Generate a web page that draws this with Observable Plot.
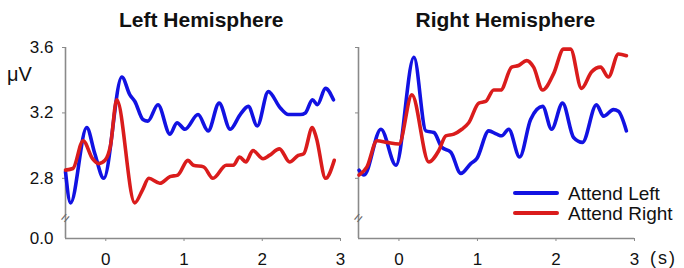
<!DOCTYPE html>
<html><head><meta charset="utf-8">
<script src="https://cdn.jsdelivr.net/npm/d3@7"></script>
<script src="https://cdn.jsdelivr.net/npm/@observablehq/plot@0.6"></script>
<style>
body{margin:0;background:#fff;}
#chart{position:relative;width:684px;height:268px;overflow:hidden;font-family:"Liberation Sans",Arial,sans-serif;color:#111;}
#chart svg{position:absolute;top:0;}
.lbl{position:absolute;white-space:nowrap;line-height:1;}
.sw{position:absolute;height:4px;border-radius:2px;}
</style></head><body><div id="chart"></div>
<script>
// ---- data (time in s, amplitude in µV) ----
const panelTitles = ["Left Hemisphere", "Right Hemisphere"];
const seriesNames = ["Attend Left", "Attend Right"];
const xTicks = [0, 1, 2, 3];
const yTicks = [0, 2.8, 3.2, 3.6];

const lhAttendLeftTime = [-0.515,-0.45,-0.244,-0.14,-0.026,0.205,0.308,0.372,0.474,0.538,0.667,0.821,0.910,1.013,1.179,1.308,1.449,1.590,1.718,1.821,1.936,2.077,2.231,2.333,2.487,2.551,2.641,2.705,2.808,2.910];
const lhAttendLeftUv   = [2.84,2.65,3.11,2.95,2.80,3.42,3.31,3.27,3.16,3.15,3.25,3.07,3.14,3.10,3.19,3.09,3.26,3.10,3.19,3.24,3.12,3.33,3.23,3.19,3.19,3.20,3.28,3.25,3.35,3.28];

const lhAttendRightTime = [-0.515,-0.42,-0.29,-0.17,-0.09,-0.01,0.06,0.14,0.37,0.47,0.55,0.69,0.82,0.92,1.05,1.12,1.25,1.37,1.54,1.63,1.71,1.79,1.88,2.01,2.09,2.22,2.35,2.46,2.53,2.64,2.69,2.81,2.92];
const lhAttendRightUv   = [2.85,2.86,3.03,2.92,2.89,2.91,3.00,3.28,2.65,2.73,2.80,2.77,2.81,2.82,2.91,2.88,2.87,2.80,2.88,2.88,2.93,2.90,2.97,2.92,2.94,2.98,2.90,2.94,2.95,3.11,3.05,2.80,2.91];

const rhAttendLeftTime = [-0.508,-0.445,-0.229,-0.038,0.191,0.343,0.445,0.546,0.661,0.788,0.915,0.991,1.144,1.245,1.309,1.398,1.537,1.677,1.830,1.944,2.084,2.224,2.338,2.516,2.605,2.732,2.795,2.897];
const rhAttendLeftUv   = [2.85,2.82,3.10,2.88,3.54,3.09,3.08,2.99,2.96,2.83,2.89,2.92,3.09,3.07,3.06,3.10,2.93,3.16,3.24,3.10,3.26,3.05,3.02,3.25,3.18,3.22,3.21,3.09];

const rhAttendRightTime = [-0.508,-0.407,-0.280,-0.152,0.0,0.165,0.381,0.508,0.597,0.699,0.801,0.889,1.017,1.105,1.207,1.296,1.436,1.525,1.626,1.715,1.830,1.970,2.097,2.186,2.325,2.452,2.567,2.668,2.795,2.897];
const rhAttendRightUv   = [2.82,2.87,3.03,3.02,3.01,3.31,2.90,2.97,3.06,3.07,3.10,3.14,3.26,3.27,3.34,3.34,3.48,3.49,3.52,3.48,3.34,3.44,3.59,3.59,3.35,3.45,3.48,3.42,3.56,3.55];

// ---- styling / layout ----
const blue = "#1212e2", red = "#da1c1c", axisGray = "#8a8a8a";
const xDomain = [-0.515, 3];
// broken axis: values below breakAt are compressed into a short stub
const breakAt = 2.56, stubFactor = 0.05;
const brokenY = v => v >= breakAt ? v : breakAt - stubFactor * breakAt + stubFactor * v;
const breakValue = 2.5;
const fmt1 = d3.format(".1f");

const toRows = (ts, vs) => ts.map((t, i) => ({t, v: vs[i]}));

function panel({marginLeft, marginRight, showLabels, attendLeft, attendRight}) {
  const upperTicks = yTicks.filter(d => d >= breakAt);
  const lowerTicks = yTicks.filter(d => d < breakAt);
  return Plot.plot({
    width: 342, height: 268,
    marginLeft, marginRight, marginTop: 47, marginBottom: 30,
    style: {fontFamily: '"Liberation Sans", Arial, sans-serif', fontSize: "17px", background: "transparent", overflow: "visible"},
    x: {domain: xDomain},
    y: {transform: brokenY, domain: [brokenY(yTicks[0]), yTicks[yTicks.length - 1]]},
    marks: [
      Plot.ruleX([xDomain[0]], {y1: yTicks[0], y2: yTicks[yTicks.length - 1], stroke: axisGray, strokeWidth: 1.6}),
      Plot.ruleY([yTicks[0]], {x1: xDomain[0], x2: xDomain[1], stroke: axisGray, strokeWidth: 1.6}),
      Plot.axisX({ticks: xTicks, tickSize: 3, tickPadding: 11, stroke: axisGray, fill: "#111", label: null, tickFormat: d3.format("d")}),
      Plot.axisY({ticks: upperTicks, tickSize: 3, tickPadding: 9, stroke: axisGray, fill: "#111", label: null,
                  tickFormat: showLabels ? fmt1 : () => ""}),
      showLabels ? Plot.text(lowerTicks, {x: xDomain[0], y: d => d, text: d => fmt1(d), textAnchor: "end", dx: -12, fill: "#111", fontSize: 17}) : null,
      Plot.text([breakValue], {x: xDomain[0], y: d => d, text: () => "=", rotate: -50, fontSize: 15, fill: "#666"}),
      Plot.line(attendLeft, {x: "t", y: "v", stroke: blue, strokeWidth: 3.6, curve: "monotone-x", strokeLinejoin: "round", strokeLinecap: "round"}),
      Plot.line(attendRight, {x: "t", y: "v", stroke: red, strokeWidth: 3.6, curve: "monotone-x", strokeLinejoin: "round", strokeLinecap: "round"})
    ]
  });
}

const root = document.getElementById("chart");
const left = panel({marginLeft: 65, marginRight: 2, showLabels: true,
  attendLeft: toRows(lhAttendLeftTime, lhAttendLeftUv), attendRight: toRows(lhAttendRightTime, lhAttendRightUv)});
left.style.left = "0px";
const right = panel({marginLeft: 16, marginRight: 50, showLabels: false,
  attendLeft: toRows(rhAttendLeftTime, rhAttendLeftUv), attendRight: toRows(rhAttendRightTime, rhAttendRightUv)});
right.style.left = "342px";
root.appendChild(left);
root.appendChild(right);

function label(text, css) {
  const d = document.createElement("div");
  d.className = "lbl";
  d.textContent = text;
  Object.assign(d.style, css);
  root.appendChild(d);
  return d;
}
// titles (centered)
const t1 = label(panelTitles[0], {fontSize: "21px", fontWeight: "bold", top: "9px"});
const t2 = label(panelTitles[1], {fontSize: "21px", fontWeight: "bold", top: "9px"});
t1.style.left = (201.5 - t1.offsetWidth / 2) + "px";
t2.style.left = (505.5 - t2.offsetWidth / 2) + "px";
// unit labels
label("\u03bcV", {fontSize: "20px", left: "7px", top: "64px"});
label("(s)", {fontSize: "18px", left: "650px", top: "249px", letterSpacing: "2px"});
// legend
const legendColors = [blue, red];
const legendY = [193, 213];
seriesNames.forEach((name, i) => {
  const sw = document.createElement("div");
  sw.className = "sw";
  Object.assign(sw.style, {left: "513px", width: "46px", top: (legendY[i] - 2) + "px", background: legendColors[i]});
  root.appendChild(sw);
  label(name, {fontSize: "19px", left: "568px", top: (legendY[i] - 9.5) + "px"});
});
</script>
</body></html>
